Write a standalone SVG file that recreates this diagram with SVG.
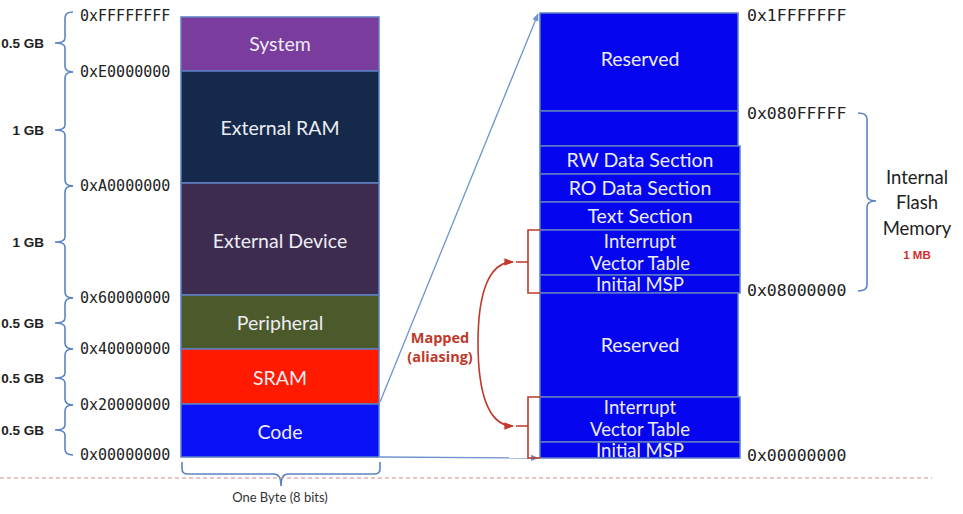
<svg xmlns="http://www.w3.org/2000/svg" width="963" height="514" viewBox="0 0 963 514">
<style>
.cell{stroke:#5d7fc4;stroke-width:1.5}
.lbl{font-family:Lato,"Open Sans","Liberation Sans",sans-serif;font-size:19.5px;fill:#ececf4;text-anchor:middle}
.sm{font-size:18.5px}
.addr{font-family:"DejaVu Sans Mono","Liberation Mono",monospace;font-size:15px;fill:#222}
.addrR{font-family:"DejaVu Sans Mono","Liberation Mono",monospace;font-size:16.5px;fill:#222}
.gb{font-family:"Liberation Sans",Arial,sans-serif;font-size:13.5px;font-weight:bold;fill:#222;text-anchor:end}
.brace{fill:none;stroke:#5b84c4;stroke-width:1.6}
.red{fill:none;stroke:#c0392b;stroke-width:1.6}
.redt{font-family:"Open Sans","Liberation Sans",sans-serif;font-size:14.5px;font-weight:bold;fill:#c0392b;text-anchor:middle}
.zoom{fill:none;stroke:#6d93cc;stroke-width:1.3}
.side{font-family:Lato,"Open Sans","Liberation Sans",sans-serif;font-size:18.5px;fill:#222;text-anchor:middle}
</style>
<defs>
<marker id="ab" viewBox="0 0 10 10" refX="9" refY="5" markerWidth="6" markerHeight="6" orient="auto"><path d="M0,1 L10,5 L0,9 z" fill="#6d93cc"/></marker>
<marker id="ar" viewBox="0 0 10 10" refX="9" refY="5" markerWidth="6" markerHeight="6" orient="auto-start-reverse"><path d="M0,1 L10,5 L0,9 z" fill="#c0392b"/></marker>
</defs>
<rect width="963" height="514" fill="#ffffff"/>

<g id="left-map">
<g id="system"><rect class="cell" x="181" y="17" width="198" height="54" fill="#7a3d9e"/><text class="lbl" x="280" y="51">System</text></g>
<g id="ext-ram"><rect class="cell" x="181" y="71" width="198" height="112" fill="#15294a"/><text class="lbl" x="280" y="135">External RAM</text></g>
<g id="ext-dev"><rect class="cell" x="181" y="183" width="198" height="112" fill="#3e2c50"/><text class="lbl" x="280" y="248">External Device</text></g>
<g id="peripheral"><rect class="cell" x="181" y="295" width="198" height="54" fill="#4c5a2b"/><text class="lbl" x="280" y="330">Peripheral</text></g>
<g id="sram"><rect class="cell" x="181" y="349" width="198" height="55" fill="#ff1a00"/><text class="lbl" x="280" y="385">SRAM</text></g>
<g id="code"><rect class="cell" x="181" y="404" width="198" height="53" fill="#0a10f5"/><text class="lbl" x="280" y="439">Code</text></g>
</g>

<g id="left-addresses">
<text class="addr" x="80" y="21">0xFFFFFFFF</text>
<text class="addr" x="80" y="77">0xE0000000</text>
<text class="addr" x="80" y="191">0xA0000000</text>
<text class="addr" x="80" y="303">0x60000000</text>
<text class="addr" x="80" y="354">0x40000000</text>
<text class="addr" x="80" y="410">0x20000000</text>
<text class="addr" x="80" y="460">0x00000000</text>
</g>

<g id="left-braces">
<path class="brace" d="M73,12 Q65,12 65,18 V38 Q65,43 55,43 Q65,43 65,48 V66 Q65,72 73,72"/>
<path class="brace" d="M73,72 Q65,72 65,78 V125 Q65,130 55,130 Q65,130 65,135 V180 Q65,186 73,186"/>
<path class="brace" d="M73,186 Q65,186 65,192 V237 Q65,242 55,242 Q65,242 65,247 V292 Q65,298 73,298"/>
<path class="brace" d="M73,298 Q65,298 65,304 V318 Q65,323 55,323 Q65,323 65,328 V343 Q65,349 73,349"/>
<path class="brace" d="M73,349 Q65,349 65,355 V373 Q65,378 55,378 Q65,378 65,383 V399 Q65,405 73,405"/>
<path class="brace" d="M73,405 Q65,405 65,411 V425 Q65,430 55,430 Q65,430 65,435 V449 Q65,455 73,455"/>
<text class="gb" x="44" y="48">0.5 GB</text>
<text class="gb" x="44" y="135">1 GB</text>
<text class="gb" x="44" y="247">1 GB</text>
<text class="gb" x="44" y="328">0.5 GB</text>
<text class="gb" x="44" y="383">0.5 GB</text>
<text class="gb" x="44" y="435">0.5 GB</text>
</g>

<g id="byte-brace">
<path class="brace" d="M182,462 V469 Q182,474 188,474 H274 Q281,474 281,486 Q281,474 288,474 H374 Q380,474 380,469 V462"/>
<text x="280" y="502" font-family="Lato,'Open Sans','Liberation Sans',sans-serif" font-size="13" fill="#333" text-anchor="middle">One Byte (8 bits)</text>
</g>

<line x1="0" y1="478" x2="932" y2="478" stroke="#d48a8a" stroke-width="1.2" stroke-dasharray="4 3"/>

<g id="right-map">
<g id="reserved-top"><rect class="cell" x="540" y="13" width="198" height="98" fill="#0505f0"/><text class="lbl" x="640" y="66">Reserved</text></g>
<g id="blank"><rect class="cell" x="540" y="111" width="198" height="35" fill="#0505f0"/></g>
<g id="rw"><rect class="cell" x="540" y="146" width="200" height="28" fill="#0505f0"/><text class="lbl" x="640" y="167">RW Data Section</text></g>
<g id="ro"><rect class="cell" x="540" y="174" width="200" height="28" fill="#0505f0"/><text class="lbl" x="640" y="195">RO Data Section</text></g>
<g id="text-sec"><rect class="cell" x="540" y="202" width="200" height="28" fill="#0505f0"/><text class="lbl" x="640" y="223">Text Section</text></g>
<g id="ivt-flash"><rect class="cell" x="540" y="230" width="200" height="45" fill="#0505f0"/><text class="lbl sm" x="640" y="248">Interrupt</text><text class="lbl sm" x="640" y="270">Vector Table</text></g>
<g id="msp-flash"><rect class="cell" x="540" y="275" width="200" height="18" fill="#0505f0"/><text class="lbl sm" x="640" y="291">Initial MSP</text></g>
<g id="reserved-mid"><rect class="cell" x="540" y="293" width="198" height="104" fill="#0505f0"/><text class="lbl" x="640" y="352">Reserved</text></g>
<g id="ivt-alias"><rect class="cell" x="540" y="397" width="200" height="45" fill="#0505f0"/><text class="lbl sm" x="640" y="414">Interrupt</text><text class="lbl sm" x="640" y="436">Vector Table</text></g>
<g id="msp-alias"><rect class="cell" x="540" y="442" width="200" height="16" fill="#0505f0"/><text class="lbl sm" x="640" y="457">Initial MSP</text></g>
</g>

<g id="right-addresses">
<text class="addrR" x="747" y="21">0x1FFFFFFF</text>
<text class="addrR" x="747" y="119">0x080FFFFF</text>
<text class="addrR" x="747" y="296">0x08000000</text>
<text class="addrR" x="747" y="461">0x00000000</text>
</g>

<g id="flash-brace">
<path class="brace" d="M858,113 Q867,113 867,119 V195 Q867,201 876,201 Q867,201 867,207 V285 Q867,291 858,291"/>
<text class="side" x="917" y="184">Internal</text>
<text class="side" x="917" y="209">Flash</text>
<text class="side" x="917" y="235">Memory</text>
<text x="917" y="259" font-family="'Liberation Sans',Arial,sans-serif" font-size="11.5" font-weight="bold" fill="#d0302a" text-anchor="middle">1 MB</text>
</g>

<g id="connectors">
<path class="zoom" d="M380,402 L538,14" marker-end="url(#ab)"/>
<path class="zoom" d="M380,457 L538,458" marker-end="url(#ab)"/>
<path class="red" d="M540,230 H528 V293 H540 M528,262 H516"/>
<path class="red" d="M540,397 H528 V458 H540 M528,426 H516"/>
<path class="red" d="M513,262 C488,262 478,295 478,343 C478,392 488,426 513,426" marker-start="url(#ar)" marker-end="url(#ar)"/>
<text class="redt" x="440" y="343">Mapped</text>
<text class="redt" x="440" y="362">(aliasing)</text>
</g>
</svg>
